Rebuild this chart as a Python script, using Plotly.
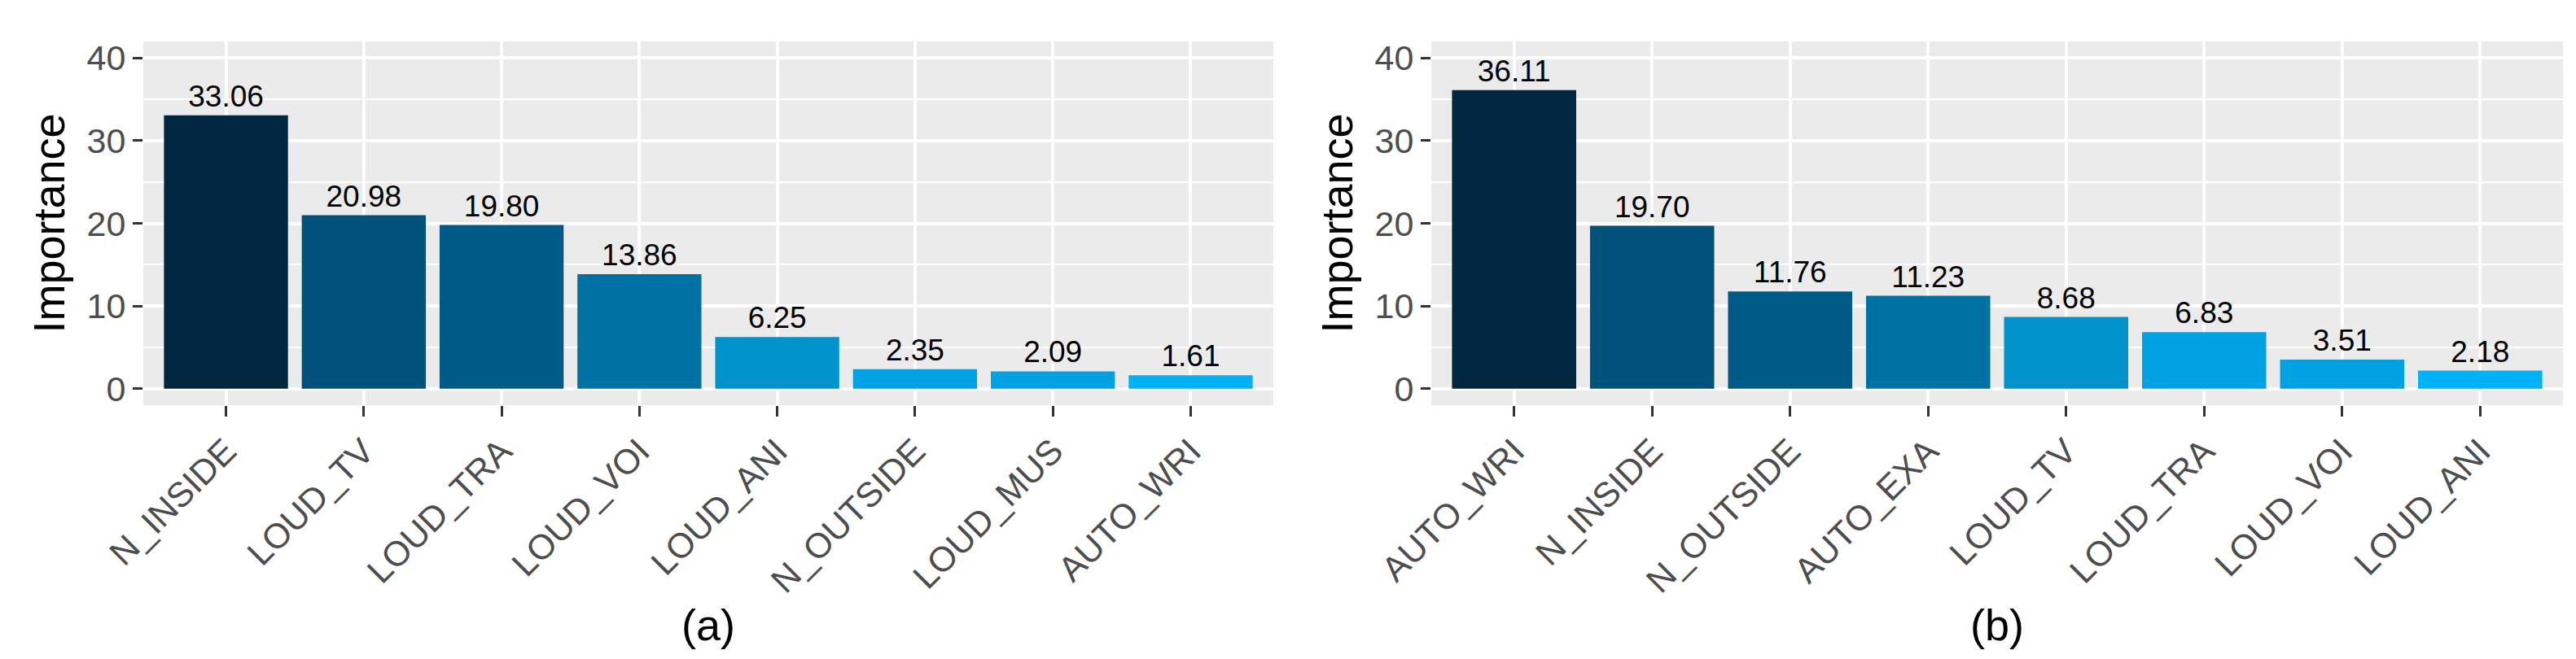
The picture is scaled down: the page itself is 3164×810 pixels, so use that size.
import plotly.graph_objects as go

# ---- data ----
features_a = ["N_INSIDE", "LOUD_TV", "LOUD_TRA", "LOUD_VOI", "LOUD_ANI", "N_OUTSIDE", "LOUD_MUS", "AUTO_WRI"]
importance_a = [33.06, 20.98, 19.80, 13.86, 6.25, 2.35, 2.09, 1.61]

features_b = ["AUTO_WRI", "N_INSIDE", "N_OUTSIDE", "AUTO_EXA", "LOUD_TV", "LOUD_TRA", "LOUD_VOI", "LOUD_ANI"]
importance_b = [36.11, 19.70, 11.76, 11.23, 8.68, 6.83, 3.51, 2.18]

y_ticks = [0, 10, 20, 30, 40]
panel_titles = ["(a)", "(b)"]
y_title = "Importance"

# ---- style ----
palette = ["#002640", "#00527A", "#005A87", "#0071A3", "#0093CC", "#00A2E3", "#00A2E3", "#00B2F6"]
FONT = "Liberation Sans, Arial, Helvetica, sans-serif"
W, H = 3164, 810
panel_bg = "#EBEBEB"
tick_col = "#4D4D4D"

fig = go.Figure()
for feats, vals, xa, ya in [(features_a, importance_a, "x", "y"), (features_b, importance_b, "x2", "y2")]:
    fig.add_trace(go.Bar(
        x=feats, y=vals, xaxis=xa, yaxis=ya,
        marker=dict(color=palette[:len(vals)], line=dict(width=0)),
        text=[f"{v:.2f}" for v in vals], textposition="outside",
        textfont=dict(family=FONT, size=37, color="black"),
        cliponaxis=False, constraintext="none", showlegend=False,
    ))

top, bottom = 43, 490
ydom = [(H - bottom) / H, (H - top) / H]
xdoms = [[168 / W, 1556 / W], [1750 / W, 3140 / W]]

common_x = dict(
    type="category", range=[-0.6, 7.6], showgrid=True, gridcolor="white", gridwidth=3.8,
    ticks="outside", ticklen=13, tickwidth=3.4, tickcolor="#333333",
    tickangle=-45, tickfont=dict(family=FONT, size=43, color=tick_col),
    showline=False, zeroline=False, automargin=False,
)
common_y = dict(
    range=[-2, 42], tickvals=y_ticks, showgrid=True, gridcolor="white", gridwidth=3.8,
    ticks="outside", ticklen=12, tickwidth=3.4, tickcolor="#333333",
    tickfont=dict(family=FONT, size=43, color=tick_col),
    minor=dict(dtick=5, tick0=0, showgrid=True, gridcolor="white", gridwidth=2, ticks=""),
    showline=False, zeroline=False, automargin=False,
)

fig.update_layout(
    width=W, height=H, margin=dict(l=0, r=0, t=0, b=0),
    paper_bgcolor="white", plot_bgcolor=panel_bg,
    bargap=0.1,
    xaxis=dict(domain=xdoms[0], anchor="y", **common_x),
    yaxis=dict(domain=ydom, anchor="x", **common_y),
    xaxis2=dict(domain=xdoms[1], anchor="y2", **common_x),
    yaxis2=dict(domain=ydom, anchor="x2", **common_y),
    font=dict(family=FONT),
)

annotations = []
for i, (xd, ttl) in enumerate(zip(xdoms, panel_titles)):
    annotations.append(dict(
        text=ttl, x=(xd[0] + xd[1]) / 2, y=(H - 760) / H, xref="paper", yref="paper",
        showarrow=False, font=dict(family=FONT, size=54, color="black"),
        xanchor="center", yanchor="middle",
    ))
for cx in [51, 1633]:
    annotations.append(dict(
        text=y_title, x=cx / W, y=(H - (top + bottom) / 2) / H, xref="paper", yref="paper",
        showarrow=False, textangle=-90, font=dict(family=FONT, size=54, color="black"),
        xanchor="center", yanchor="middle",
    ))
fig.update_layout(annotations=annotations)

fig.write_html("out.html")
